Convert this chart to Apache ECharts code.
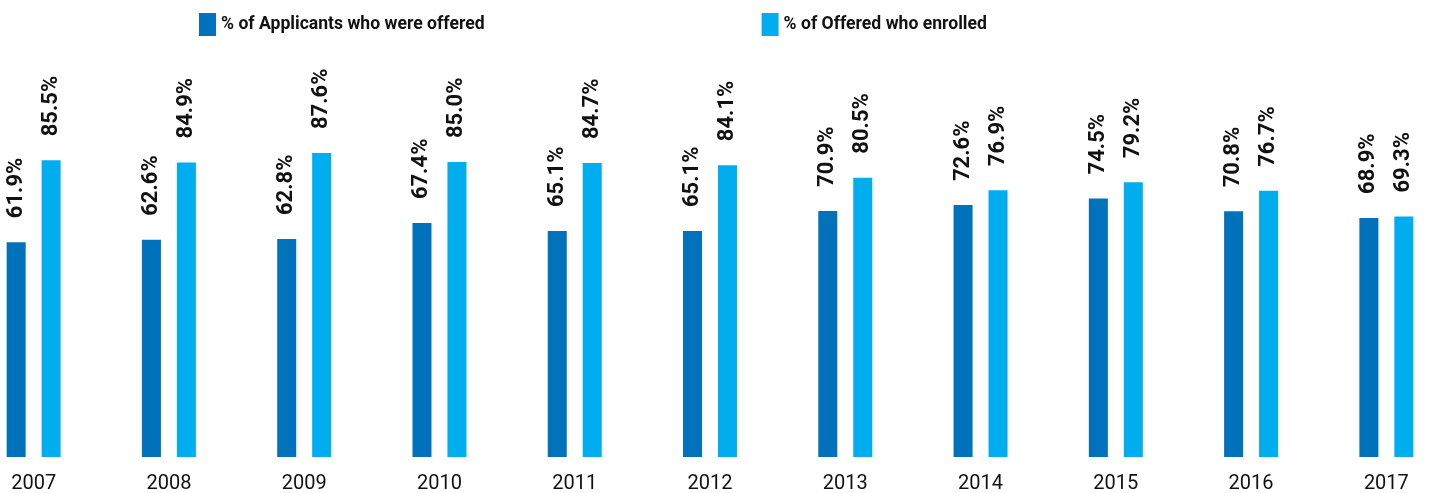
<!DOCTYPE html>
<html>
<head>
<meta charset="utf-8">
<script src="https://cdn.jsdelivr.net/npm/echarts@6/dist/echarts.min.js"></script>
<style>
  html, body { margin: 0; padding: 0; background: #fff; }
  #main { width: 1437px; height: 493px; }
</style>
</head>
<body>
<div id="main"></div>
<script>
// data
var years = ['2007', '2008', '2009', '2010', '2011', '2012', '2013', '2014', '2015', '2016', '2017'];
var offered = [61.9, 62.6, 62.8, 67.4, 65.1, 65.1, 70.9, 72.6, 74.5, 70.8, 68.9];
var enrolled = [85.5, 84.9, 87.6, 85.0, 84.7, 84.1, 80.5, 76.9, 79.2, 76.7, 69.3];

var font = 'Roboto, sans-serif';

var chartDom = document.getElementById('main');
var myChart = echarts.init(chartDom);

var valueLabel = {
    show: true,
    position: 'top',
    distance: 24,
    rotate: 90,
    align: 'left',
    verticalAlign: 'middle',
    fontFamily: font,
    fontWeight: 'bold',
    fontSize: 22,
    color: '#111',
    formatter: function (p) { return p.value.toFixed(1) + '%'; }
};

var option = {
    animation: false,
    legend: {
        left: 199,
        top: 13,
        padding: 0,
        icon: 'rect',
        itemWidth: 17,
        itemHeight: 23,
        itemGap: 277,
        textStyle: { fontFamily: font, fontWeight: 'bold', fontSize: 17.6, color: '#111' },
        data: ['% of Applicants who were offered', '% of Offered who enrolled']
    },
    grid: {
        left: -34,
        right: -17,
        top: 110,
        bottom: 36,
        outerBoundsMode: 'none'
    },
    xAxis: {
        type: 'category',
        data: years,
        axisLine: { show: false },
        axisTick: { show: false },
        axisLabel: { fontFamily: font, fontSize: 20, color: '#111', margin: 17 }
    },
    yAxis: {
        type: 'value',
        min: 0,
        max: 100,
        show: false
    },
    series: [
        {
            name: '% of Applicants who were offered',
            type: 'bar',
            barWidth: 19,
            barGap: '84%',
            itemStyle: { color: '#0071BB' },
            label: valueLabel,
            data: offered
        },
        {
            name: '% of Offered who enrolled',
            type: 'bar',
            barWidth: 19,
            itemStyle: { color: '#00AEEF' },
            label: valueLabel,
            data: enrolled
        }
    ]
};
option && myChart.setOption(option);
</script>
</body>
</html>
